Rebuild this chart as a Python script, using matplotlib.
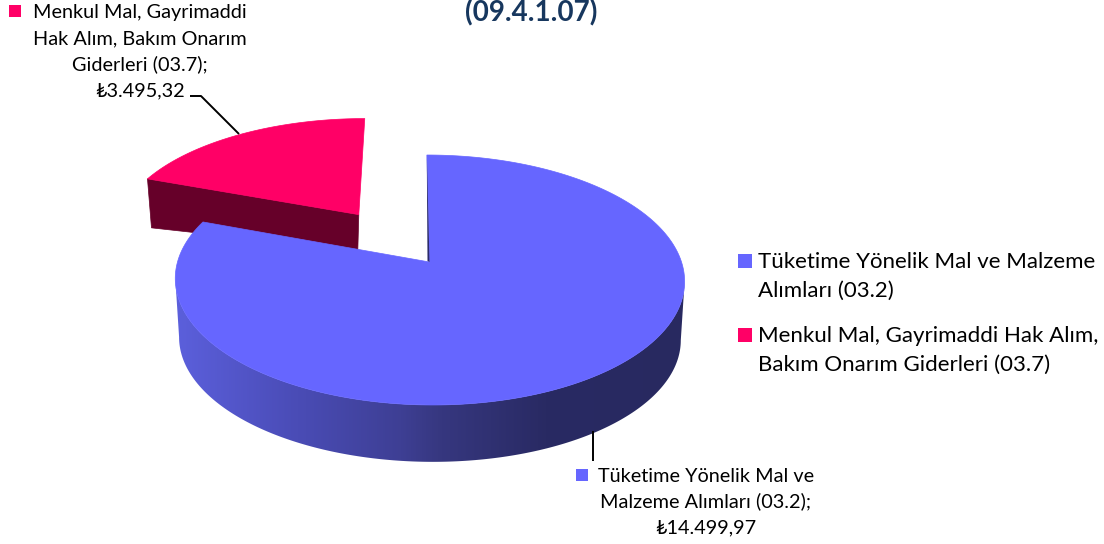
import numpy as np
import matplotlib
matplotlib.use('Agg')
import matplotlib.pyplot as plt
from matplotlib.colors import LinearSegmentedColormap
from matplotlib.patches import Polygon, Rectangle

plt.rcParams['font.family'] = ['Lato', 'DejaVu Sans']

# data
values = [14499.97, 3495.32]
colors = ['#6666FF', '#FF0066']
legend_lines = [['Tüketime Yönelik Mal ve Malzeme', 'Alımları (03.2)'],
                ['Menkul Mal, Gayrimaddi Hak Alım,', 'Bakım Onarım Giderleri (03.7)']]
blue_label = ['Tüketime Yönelik Mal ve', 'Malzeme Alımları (03.2);', '₺14.499,97']
red_label = ['Menkul Mal, Gayrimaddi', 'Hak Alım, Bakım Onarım', 'Giderleri (03.7);', '₺3.495,32']
title = '(09.4.1.07)'

# pixel coordinates, origin top left like the reference
fig = plt.figure(figsize=(11.04, 5.44), dpi=100)
ax = fig.add_axes([0, 0, 1, 1])


# perspective view of the unit circle plane
def proj(u, v, scale=1.0, y0=262.0):
    w = 1 + 0.144 * v
    x = 429.5 + scale * (252 * u - 3 * v) / w
    y = y0 - scale * 122.4 * v / w
    return np.column_stack([x, y])


def unit(deg):
    rad = np.radians(deg)
    return np.sin(rad), np.cos(rad)


fracs = np.array(values) / sum(values)
blue_end = fracs[0] * 360

# red slice, pulled out along its middle angle
mid = (blue_end + 360) / 2
ex, ey = unit(mid)
off_u, off_v = 0.51 * ex, 0.50 * ey

arc = np.linspace(blue_end, 360, 60)
au, av = unit(arc)
red_top = np.vstack([proj(np.array([off_u]), np.array([off_v])),
                     proj(au + off_u, av + off_v)])
apex = red_top[0]
rim = red_top[1]
red_wall = [apex, rim, rim + [4, 49], apex + [-1, 36]]
ax.add_patch(Polygon(red_wall, closed=True, fc='#660029', ec='#660029', lw=0.5))
ax.add_patch(Polygon(red_top, closed=True, fc=colors[1], ec=colors[1], lw=0.5))

# blue side wall, shaded left to right, between the two widest points of the rim
wall_cmap = LinearSegmentedColormap.from_list('wall', [
    (0.00, '#5C60DD'), (0.24, '#4A4CB6'), (0.44, '#3E3F94'),
    (0.52, '#36377F'), (0.72, '#292A63'), (1.00, '#282960')])
sweep = np.linspace(0, 360, 721)
rim_x = proj(*unit(sweep))[:, 0]
angles = np.linspace(sweep[np.argmax(rim_x)], sweep[np.argmin(rim_x)], 260)
su, sv = unit(angles)
upper = proj(su, sv)
lower = proj(su, sv, scale=0.985, y0=321)
wall = Polygon(np.vstack([upper, lower[::-1]]), closed=True, transform=ax.transData, fc='none', ec='none')
ax.add_patch(wall)
grad = ax.imshow(np.linspace(0, 1, 512)[None, :], cmap=wall_cmap, extent=(172, 692, 470, 270),
                 aspect='auto', interpolation='bilinear')
grad.set_clip_path(wall)

# blue top
arc = np.linspace(0, blue_end, 300)
tu, tv = unit(arc)
centre = proj(np.array([0.0]), np.array([0.0]))
blue_top = np.vstack([centre, proj(tu, tv)])
ax.add_patch(Polygon(blue_top, closed=True, fc=colors[0], ec=colors[0], lw=0.5, zorder=2))

# thin inner wall seen at the notch
first = blue_top[1]
sliver = [first, centre[0], centre[0] + [-2, -1], first + [0, 15]]
ax.add_patch(Polygon(sliver, closed=True, fc='#2B2B6B', ec='none', zorder=2))

# leader lines
ax.plot([190, 201, 239], [96, 96, 134], color='black', lw=1.4, solid_capstyle='butt', zorder=3)
ax.plot([593, 593], [431, 461], color='black', lw=1.4, solid_capstyle='butt', zorder=3)

# title sits right at the top edge as in the reference
ax.text(531, 21, title, ha='center', va='baseline', fontsize=20, fontweight='bold', color='#17375E')

# data labels
for line, y in zip(red_label, [18, 44, 70, 96]):
    ax.text(139.5, y, line, ha='center', va='baseline', fontsize=14.3, color='black')
ax.add_patch(Rectangle((9, 5), 12, 12, fc=colors[1], ec='none'))

for line, y in zip(blue_label, [482, 507, 533]):
    ax.text(706, y, line, ha='center', va='baseline', fontsize=14.3, color='black')
ax.add_patch(Rectangle((576, 469), 12, 12, fc=colors[0], ec='none'))

# legend
for color, lines, ys, box_y in zip(colors, legend_lines, [[268, 297], [342, 371]], [254, 328]):
    ax.add_patch(Rectangle((738, box_y), 14, 14, fc=color, ec='none'))
    for line, y in zip(lines, ys):
        ax.text(758, y, line, ha='left', va='baseline', fontsize=16, color='black')

ax.set_xlim(0, 1104)
ax.set_ylim(544, 0)
ax.axis('off')

fig.savefig('out.png', dpi=100)
